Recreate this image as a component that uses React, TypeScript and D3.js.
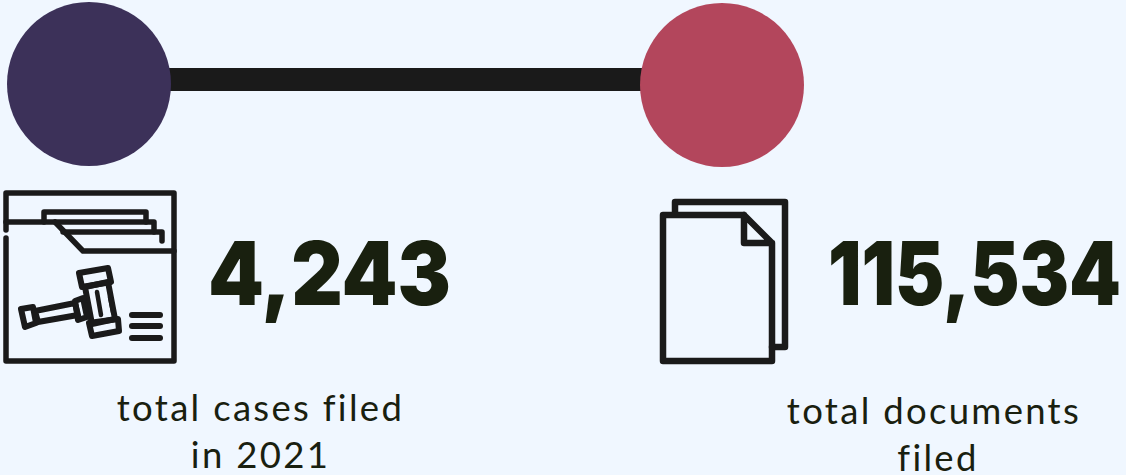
import React, { useEffect, useRef } from 'react';
import * as d3 from 'd3';

const WIDTH = 1126;
const HEIGHT = 475;

const categories = ['cases', 'documents'];
const values = [4243, 115534];
const captions = [
  ['total cases filed', 'in 2021'],
  ['total documents', 'filed'],
];
const nodeColors = ['#3c3159', '#b3465c'];

const INK = '#1a1a1a';
const TEXT = '#19200f';

// icon outlines
const frameLines = [
  'M6,230V193H174V361H6V238',
  'M6,222H154V232',
  'M44,222V212H146V222',
  'M63,232H162V241',
  'M55,222L83,251H174',
];
const gavelShapes = [
  'M79,273L108,268L111,282L82,287Z',
  'M89,323L118,319L119,331L92,336Z',
  'M85,287L108,282L115,319L92,324Z',
  'M21,309L33,307L36,323L25,327Z',
  'M35,311L75,303L78,315L38,322Z',
  'M75,301L83,298L87,317L78,320Z',
];
const gavelLines = ['M97,292L101,315', 'M110,297L113,312'];
const listLines = ['M132,315H160', 'M132,326H160', 'M132,338H160'];
const docLines = [
  'M675,213V202H785V347H772',
  'M744,215H663V361H772V243L744,215V243H772',
];

export default function App() {
  const svgRef = useRef<SVGSVGElement>(null);

  useEffect(() => {
    const svg = d3.select(svgRef.current);
    svg.selectAll('*').remove();

    const x = d3.scalePoint<string>().domain(categories).range([89, 722]);
    const textX = d3.scalePoint<string>().domain(categories).range([260.5, 934]);
    const numberX = d3.scalePoint<string>().domain(categories).range([208, 828]);
    const numberW = d3.scalePoint<string>().domain(categories).range([243, 293]);
    const captionY = d3.scalePoint<string>().domain(categories).range([421, 424]);
    const fmt = d3.format(',');

    svg.append('rect').attr('width', WIDTH).attr('height', HEIGHT).attr('fill', '#f0f7ff');

    // connector
    svg
      .append('line')
      .attr('x1', x(categories[0])!)
      .attr('x2', x(categories[1])!)
      .attr('y1', 79.5)
      .attr('y2', 79.5)
      .attr('stroke', INK)
      .attr('stroke-width', 23);

    // nodes
    svg
      .selectAll('.node')
      .data(categories)
      .join('circle')
      .attr('class', 'node')
      .attr('cx', (d) => x(d)!)
      .attr('cy', (d, i) => 84 + i)
      .attr('r', 82)
      .attr('fill', (d, i) => nodeColors[i]);

    // big numbers, squeezed to the width they have in the picture
    svg
      .selectAll('.number')
      .data(categories)
      .join('text')
      .attr('class', 'number')
      .attr('x', (d) => numberX(d)!)
      .attr('y', 305)
      .attr('font-family', 'Inter')
      .attr('font-weight', 900)
      .attr('font-size', 88)
      .attr('textLength', (d) => numberW(d)!)
      .attr('lengthAdjust', 'spacingAndGlyphs')
      .attr('fill', TEXT)
      .text((d, i) => fmt(values[i]));

    // captions
    categories.forEach((c, i) => {
      svg
        .selectAll(`.caption-${c}`)
        .data(captions[i])
        .join('text')
        .attr('class', `caption-${c}`)
        .attr('x', (d, j) => textX(c)! + (i === 1 && j === 1 ? 4 : 0))
        .attr('y', (d, j) => captionY(c)! + j * 46.5)
        .attr('text-anchor', 'middle')
        .attr('font-family', 'Lato')
        .attr('font-size', 36.5)
        .attr('letter-spacing', 2.3)
        .attr('fill', TEXT)
        .text((d) => d);
    });

    // icons
    const icons = svg
      .append('g')
      .attr('fill', 'none')
      .attr('stroke', INK)
      .attr('stroke-linecap', 'round')
      .attr('stroke-linejoin', 'round');

    icons
      .selectAll('.frame')
      .data(frameLines)
      .join('path')
      .attr('class', 'frame')
      .attr('d', (d) => d)
      .attr('stroke-width', 5.5);
    icons
      .selectAll('.gavel')
      .data(gavelShapes)
      .join('path')
      .attr('class', 'gavel')
      .attr('d', (d) => d)
      .attr('stroke-width', 6);
    icons
      .selectAll('.gavel-line')
      .data(gavelLines)
      .join('path')
      .attr('class', 'gavel-line')
      .attr('d', (d) => d)
      .attr('stroke-width', 4.5);
    icons
      .selectAll('.list')
      .data(listLines)
      .join('path')
      .attr('class', 'list')
      .attr('d', (d) => d)
      .attr('stroke-width', 6);
    icons
      .selectAll('.doc')
      .data(docLines)
      .join('path')
      .attr('class', 'doc')
      .attr('d', (d) => d)
      .attr('stroke-width', 6.5);
  }, []);

  return (
    <svg
      ref={svgRef}
      width={WIDTH}
      height={HEIGHT}
      style={{ position: 'fixed', left: 0, top: 0, display: 'block' }}
    />
  );
}
